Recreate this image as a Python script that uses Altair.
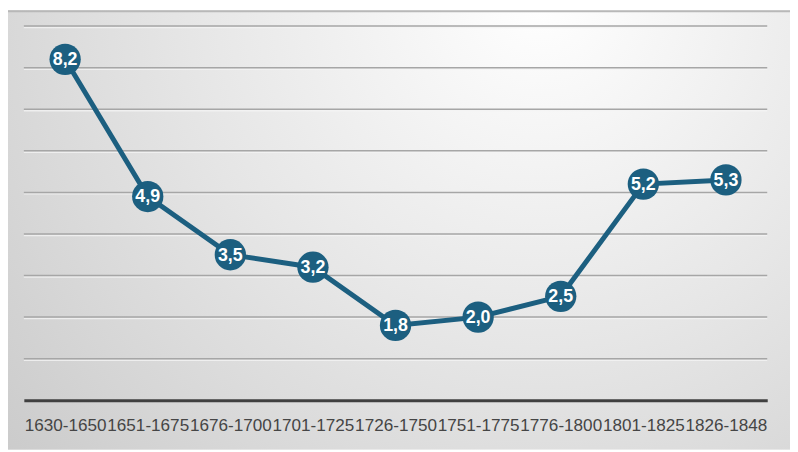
import altair as alt
import pandas as pd

periods = ["1630-1650", "1651-1675", "1676-1700", "1701-1725", "1726-1750",
           "1751-1775", "1776-1800", "1801-1825", "1826-1848"]
values = [8.2, 4.9, 3.5, 3.2, 1.8, 2.0, 2.5, 5.2, 5.3]
grid_values = [1, 2, 3, 4, 5, 6, 7, 8, 9]

df = pd.DataFrame({"period": periods, "value": values})
grid_df = pd.DataFrame({"g": grid_values})

W, H = 751, 378
PAD = {"left": 16, "top": 16, "right": 23, "bottom": 50}
BLUE = "#1c5f80"

y_scale = alt.Scale(domain=[0, 9], nice=False, zero=True)

bg = alt.Chart(pd.DataFrame({"k": [0]})).mark_rect(
    color=alt.RadialGradient(
        gradient="radial",
        x1=0.68, y1=0.2, r1=0.0,
        x2=0.68, y2=0.2, r2=0.9,
        stops=[
            alt.GradientStop(offset=0.0, color="#ffffff"),
            alt.GradientStop(offset=0.5, color="#e6e6e6"),
            alt.GradientStop(offset=1.0, color="#cbcbcb"),
        ],
    ),
).encode(
    x=alt.value(-PAD["left"]),
    x2=alt.value(W + PAD["right"]),
    y=alt.value(-PAD["top"]),
    y2=alt.value(H + PAD["bottom"]),
)

top_border = alt.Chart(pd.DataFrame({"k": [0]})).mark_rule(
    color="#b8b8b8", strokeWidth=2
).encode(
    x=alt.value(-PAD["left"]),
    x2=alt.value(W + PAD["right"]),
    y=alt.value(-PAD["top"] + 1),
)

grid_shadow = alt.Chart(grid_df).mark_rule(
    color="#f4f4f4", strokeWidth=1.5, yOffset=1.5, opacity=0.8
).encode(y=alt.Y("g:Q", scale=y_scale, axis=None))

grid = alt.Chart(grid_df).mark_rule(
    color="#a6a6a6", strokeWidth=1.5
).encode(y=alt.Y("g:Q", scale=y_scale, axis=None))

x_enc = alt.X(
    "period:N",
    sort=periods,
    title=None,
    axis=alt.Axis(
        labelAngle=0,
        labelOverlap=False,
        labelLimit=0,
        labelFont="Liberation Sans",
        labelFontSize=17.3,
        labelColor="#454545",
        labelPadding=17,
        ticks=False,
        domainColor="#404040",
        domainWidth=3,
        grid=False,
        zindex=1,
    ),
)
y_enc = alt.Y("value:Q", title=None, scale=y_scale, axis=None)

base = alt.Chart(df).encode(x=x_enc, y=y_enc)

line = base.mark_line(color=BLUE, strokeWidth=5)
dots = base.mark_circle(color=BLUE, opacity=1, size=1000)
labels = base.transform_calculate(
    lbl="replace(format(datum.value, '.1f'), '.', ',')"
).mark_text(
    color="white",
    font="Liberation Sans",
    fontSize=18,
    fontWeight="bold",
    baseline="middle",
    align="center",
    dy=1,
).encode(text="lbl:N")

chart = alt.layer(bg, top_border, grid_shadow, grid, line, dots, labels).properties(
    width=W,
    height=H,
    padding=PAD,
    autosize=alt.AutoSizeParams(type="none"),
).configure_view(stroke=None).configure(background="#ffffff")

chart.save("out.html", embed_options={"renderer": "svg", "actions": False})
